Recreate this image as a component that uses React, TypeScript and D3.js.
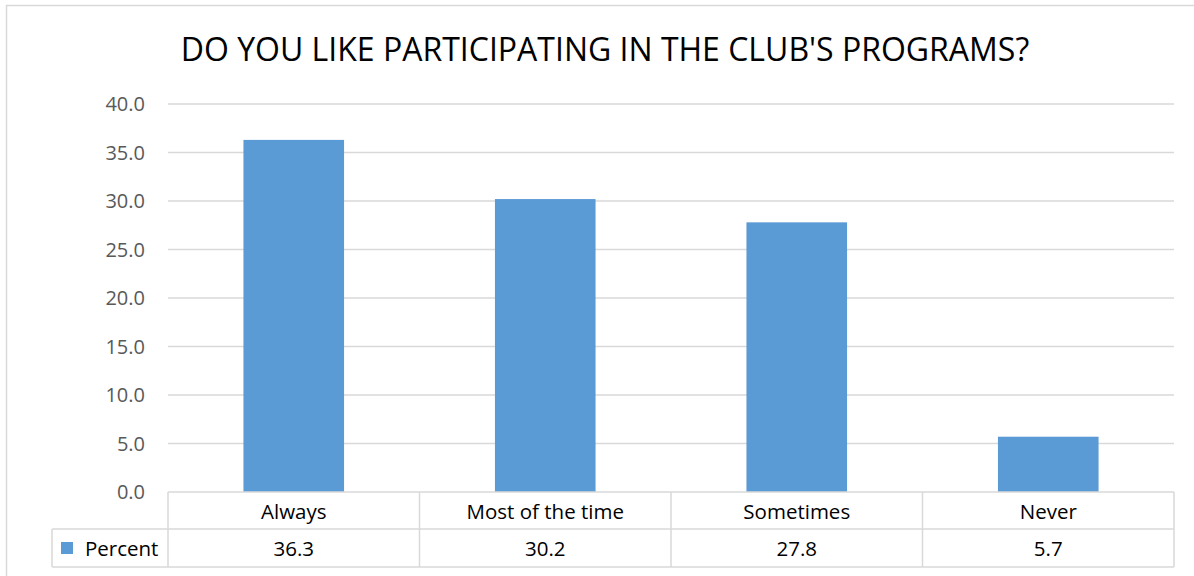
import React from "react";
import * as d3 from "d3";

const title = "DO YOU LIKE PARTICIPATING IN THE CLUB'S PROGRAMS?";
const categories = ["Always", "Most of the time", "Sometimes", "Never"];
const percentValues = [36.3, 30.2, 27.8, 5.7];
const valueLabels = ["36.3", "30.2", "27.8", "5.7"];
const yTicks = [0, 5, 10, 15, 20, 25, 30, 35, 40];
const seriesName = "Percent";

const W = 1194;
const H = 576;
const FONT = "'Open Sans', 'Noto Sans', sans-serif";
const BAR = "#5b9bd5";
const GRID = "#d9d9d9";

export default function App() {
  const plotLeft = 168;
  const plotRight = 1174;
  const plotTop = 104;
  const plotBottom = 492;
  const row1Bottom = 529;
  const row2Bottom = 567;
  const legendLeft = 52;

  const x = d3.scaleBand<string>().domain(categories).range([plotLeft, plotRight]).paddingInner(0).paddingOuter(0);
  const y = d3.scaleLinear().domain([0, 40]).range([plotBottom, plotTop]);
  const bw = x.bandwidth();
  const barW = bw * 0.4;

  return (
    <svg width={W} height={H} style={{ position: "absolute", left: 0, top: 0, background: "#fff" }} fontFamily={FONT}>
      <rect x={6.5} y={5.5} width={W + 10} height={H + 10} fill="#fff" stroke={GRID} strokeWidth={1.5} />
      <text x={605} y={61} textAnchor="middle" fontSize={32} fill="#000">{title}</text>
      {yTicks.map((t) => (
        <g key={t}>
          {t > 0 && <line x1={plotLeft} x2={plotRight} y1={y(t)} y2={y(t)} stroke={GRID} strokeWidth={1.5} />}
          <text x={145} y={y(t)} dy="0.35em" textAnchor="end" fontSize={20} fill="#595959">{t.toFixed(1)}</text>
        </g>
      ))}
      {categories.map((c, i) => (
        <rect key={c} x={(x(c) as number) + (bw - barW) / 2} y={y(percentValues[i])} width={barW} height={plotBottom - y(percentValues[i])} fill={BAR} />
      ))}
      {/* data table */}
      <g stroke={GRID} strokeWidth={1.5} fill="none">
        <line x1={plotLeft} x2={plotRight} y1={plotBottom} y2={plotBottom} />
        <line x1={legendLeft} x2={plotRight} y1={row1Bottom} y2={row1Bottom} />
        <line x1={legendLeft} x2={plotRight} y1={row2Bottom} y2={row2Bottom} />
        <line x1={legendLeft} x2={legendLeft} y1={row1Bottom} y2={row2Bottom} />
        {categories.map((c) => (
          <line key={c} x1={x(c)} x2={x(c)} y1={plotBottom} y2={row2Bottom} />
        ))}
        <line x1={plotRight} x2={plotRight} y1={plotBottom} y2={row2Bottom} />
      </g>
      {categories.map((c, i) => (
        <g key={c}>
          <text x={(x(c) as number) + bw / 2} y={(plotBottom + row1Bottom) / 2 + 1} dy="0.35em" textAnchor="middle" fontSize={20.5} fill="#000">{c}</text>
          <text x={(x(c) as number) + bw / 2} y={(row1Bottom + row2Bottom) / 2 + 1} dy="0.35em" textAnchor="middle" fontSize={20.5} fill="#000">{valueLabels[i]}</text>
        </g>
      ))}
      <rect x={61} y={542} width={12} height={12} fill={BAR} />
      <text x={85} y={(row1Bottom + row2Bottom) / 2 + 1} dy="0.35em" fontSize={20.5} fill="#000">{seriesName}</text>
    </svg>
  );
}
